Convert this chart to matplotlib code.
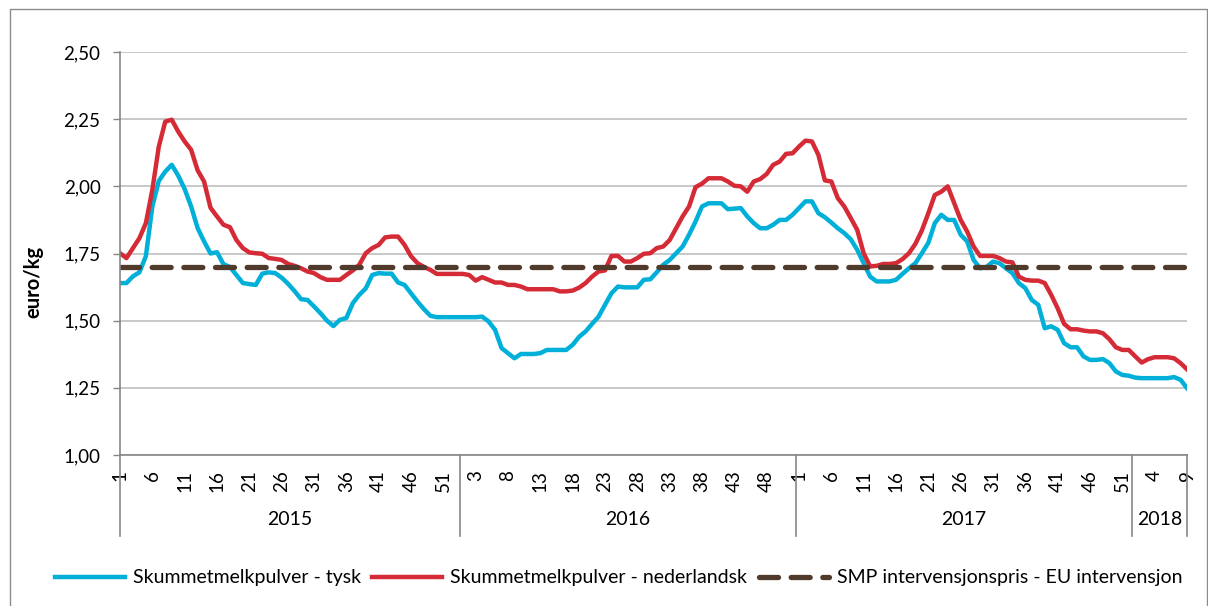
import numpy as np
import matplotlib
matplotlib.use('Agg')
import matplotlib.pyplot as plt
from matplotlib.patches import Rectangle
import matplotlib.transforms as mtransforms

plt.rcParams['font.family'] = ['Lato', 'DejaVu Sans']

# weekly prices, 2015 w1 .. 2018 w9 (euro/kg)
tysk = [1.64, 1.64, 1.665, 1.68, 1.74, 1.925, 2.02, 2.055, 2.08, 2.04,
        1.99, 1.925, 1.845, 1.795, 1.75, 1.755, 1.71, 1.70, 1.67, 1.64,
        1.636, 1.633, 1.675, 1.68, 1.677, 1.66, 1.637, 1.61, 1.58, 1.577,
        1.553, 1.528, 1.50, 1.48, 1.503, 1.51, 1.565, 1.596, 1.62, 1.67,
        1.677, 1.675, 1.675, 1.642, 1.633, 1.602, 1.571, 1.543, 1.518, 1.513,
        1.513, 1.513, 1.513, 1.513, 1.513, 1.513, 1.515, 1.497, 1.466, 1.398,
        1.379, 1.36, 1.376, 1.376, 1.376, 1.379, 1.391, 1.391, 1.391, 1.391,
        1.41, 1.44, 1.46, 1.488, 1.515, 1.559, 1.602, 1.627, 1.624, 1.624,
        1.624, 1.652, 1.654, 1.68, 1.708, 1.726, 1.751, 1.776, 1.82, 1.869,
        1.925, 1.937, 1.937, 1.937, 1.915, 1.917, 1.919, 1.888, 1.863, 1.844,
        1.844, 1.857, 1.875, 1.875, 1.894, 1.919, 1.944, 1.944, 1.90, 1.885,
        1.865, 1.844, 1.826, 1.803, 1.764, 1.714, 1.664, 1.646, 1.646, 1.646,
        1.652, 1.674, 1.695, 1.714, 1.751, 1.79, 1.863, 1.894, 1.875, 1.875,
        1.82, 1.795, 1.726, 1.695, 1.70, 1.72, 1.714, 1.695, 1.677, 1.64,
        1.621, 1.577, 1.559, 1.472, 1.479, 1.466, 1.416, 1.401, 1.401, 1.367,
        1.354, 1.354, 1.357, 1.342, 1.311, 1.298, 1.295, 1.288, 1.286, 1.286,
        1.286, 1.286, 1.286, 1.29, 1.28, 1.249]

nederlandsk = [1.751, 1.733, 1.77, 1.807, 1.863, 1.987, 2.148, 2.241, 2.248, 2.204,
               2.167, 2.136, 2.06, 2.018, 1.92, 1.888, 1.857, 1.848, 1.80, 1.77,
               1.754, 1.751, 1.749, 1.733, 1.73, 1.726, 1.711, 1.704, 1.695, 1.683,
               1.677, 1.662, 1.652, 1.652, 1.652, 1.67, 1.687, 1.708, 1.751, 1.77,
               1.782, 1.81, 1.813, 1.813, 1.782, 1.74, 1.714, 1.70, 1.689, 1.674,
               1.674, 1.674, 1.674, 1.674, 1.67, 1.649, 1.662, 1.652, 1.642, 1.642,
               1.633, 1.633, 1.627, 1.617, 1.617, 1.617, 1.617, 1.617, 1.609, 1.609,
               1.612, 1.623, 1.64, 1.664, 1.683, 1.687, 1.741, 1.741, 1.72, 1.72,
               1.733, 1.749, 1.751, 1.77, 1.776, 1.80, 1.844, 1.888, 1.925, 1.997,
               2.01, 2.03, 2.03, 2.03, 2.018, 2.002, 2.0, 1.98, 2.018, 2.027,
               2.046, 2.08, 2.092, 2.121, 2.123, 2.148, 2.17, 2.167, 2.117, 2.022,
               2.018, 1.956, 1.925, 1.882, 1.838, 1.751, 1.702, 1.704, 1.711, 1.711,
               1.714, 1.729, 1.751, 1.786, 1.836, 1.90, 1.968, 1.98, 2.0, 1.937,
               1.875, 1.832, 1.776, 1.741, 1.741, 1.741, 1.733, 1.72, 1.717, 1.664,
               1.652, 1.649, 1.649, 1.64, 1.596, 1.546, 1.488, 1.468, 1.468, 1.463,
               1.46, 1.46, 1.453, 1.431, 1.401, 1.391, 1.391, 1.367, 1.344, 1.357,
               1.364, 1.364, 1.364, 1.36, 1.342, 1.319]

intervensjon = 1.698

years = ['2015', '2016', '2017', '2018']
weeks_per_year = [53, 52, 52, 9]

week_labels = []
for n in weeks_per_year:
    week_labels += list(range(1, n + 1))
x = np.arange(len(week_labels))

fig = plt.figure(figsize=(12.08, 6.06), dpi=100)
ax = fig.add_axes([120 / 1208, 1 - 455 / 606, 1067 / 1208, 403 / 606])

# outer chart frame
fig.patches.append(Rectangle((10 / 1208, -0.05), 1197 / 1208, 1.05 - 9 / 606,
                             transform=fig.transFigure, fill=False,
                             edgecolor='#8c8c8c', linewidth=1))

ax.plot(x, tysk, color='#00b0d8', linewidth=3.2, solid_joinstyle='round',
        label='Skummetmelkpulver - tysk')
ax.plot(x, nederlandsk, color='#d52b36', linewidth=3.2, solid_joinstyle='round',
        label='Skummetmelkpulver - nederlandsk')
ax.plot(x, [intervensjon] * len(x), color='#4f3a2b', linewidth=3.8,
        linestyle=(0, (3.6, 2.4)), dash_capstyle='round',
        label='SMP intervensjonspris - EU intervensjon')

ax.set_xlim(0, len(x) - 1)
ax.set_ylim(1.0, 2.5)
ax.set_yticks(np.arange(1.0, 2.51, 0.25))
ax.set_yticklabels([f'{v:.2f}'.replace('.', ',') for v in np.arange(1.0, 2.51, 0.25)],
                   fontsize=13.5)
ax.yaxis.grid(True, color='#bfbfbf', linewidth=1.2)
ax.set_axisbelow(True)

ticks = x[::5]
ax.set_xticks(ticks)
ax.set_xticklabels([str(week_labels[i]) for i in ticks], rotation=90, fontsize=13.5)
ax.tick_params(axis='x', length=0, pad=11)
ax.tick_params(axis='y', length=5, width=1, color='#868686', pad=9)

for s in ['top', 'right']:
    ax.spines[s].set_visible(False)
for s in ['left', 'bottom']:
    ax.spines[s].set_color('#868686')
    ax.spines[s].set_linewidth(1.2)

ax.set_ylabel('euro/kg', fontsize=14.5, fontweight='bold')
ax.yaxis.set_label_coords(-0.072, 0.43)

# year groups below the week labels
trans = mtransforms.blended_transform_factory(ax.transData, ax.transAxes)
bounds = [0]
pos = 0
for n in weeks_per_year[:-1]:
    pos += n
    bounds.append(pos - 0.5)
bounds.append(len(x) - 1)
for b in bounds:
    ax.plot([b, b], [0, -0.2], transform=trans, color='#868686', linewidth=1.2,
            clip_on=False)
for k, yr in enumerate(years):
    ax.text((bounds[k] + bounds[k + 1]) / 2, -0.16, yr, transform=trans,
            ha='center', va='center', fontsize=14)

fig.legend(loc='center', bbox_to_anchor=(0.512, 1 - 578 / 606), ncol=3,
           frameon=False, fontsize=14, handlelength=3.6, columnspacing=0.6,
           handletextpad=0.4)

fig.savefig('out.png', dpi=100)
